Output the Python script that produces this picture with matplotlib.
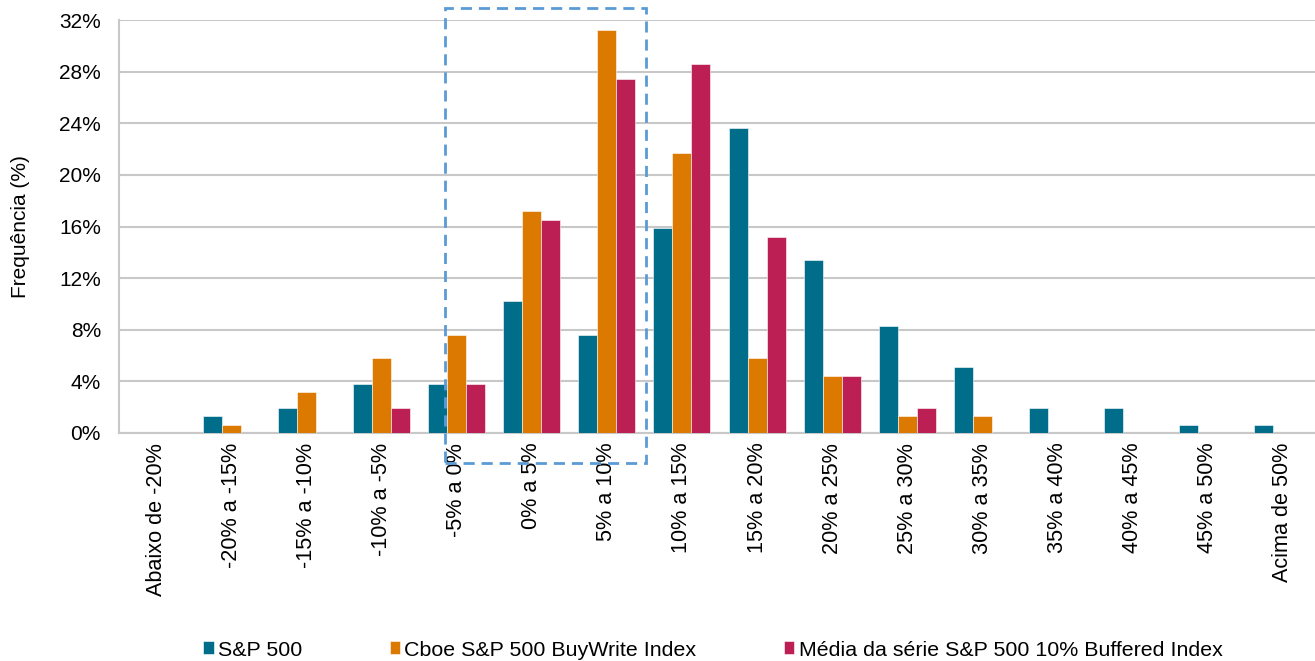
import matplotlib.pyplot as plt
from matplotlib.patches import Rectangle
import numpy as np

plt.rcParams['font.family'] = ['Liberation Sans', 'DejaVu Sans']

categories = ["Abaixo de -20%", "-20% a -15%", "-15% a -10%", "-10% a -5%", "-5% a 0%",
              "0% a 5%", "5% a 10%", "10% a 15%", "15% a 20%", "20% a 25%", "25% a 30%",
              "30% a 35%", "35% a 40%", "40% a 45%", "45% a 50%", "Acima de 50%"]
sp500 = [0, 1.3, 1.9, 3.8, 3.8, 10.2, 7.6, 15.9, 23.6, 13.4, 8.3, 5.1, 1.9, 1.9, 0.6, 0.6]
buywrite = [0, 0.6, 3.2, 5.8, 7.6, 17.2, 31.2, 21.7, 5.8, 4.4, 1.3, 1.3, 0, 0, 0, 0]
buffered = [0, 0, 0, 1.9, 3.8, 16.5, 27.4, 28.6, 15.2, 4.4, 1.9, 0, 0, 0, 0, 0]
series_names = ["S&P 500", "Cboe S&P 500 BuyWrite Index", "Média da série S&P 500 10% Buffered Index"]
yticks = [0, 4, 8, 12, 16, 20, 24, 28, 32]

colors = ["#006E8A", "#DC7900", "#BB1F53"]

W, H = 1315, 661
fig = plt.figure(figsize=(W / 100, H / 100), dpi=100)
ax = fig.add_axes([119 / W, (H - 433) / H, (1320 - 119) / W, (433 - 20) / H])

x = np.arange(len(categories))
bw = 0.253
for i, (vals, name) in enumerate(zip([sp500, buywrite, buffered], series_names)):
    ax.bar(x + (i - 1) * bw, vals, width=bw, color=colors[i], label=name,
           edgecolor="white", linewidth=0.4, zorder=3)

ax.set_xlim(-0.5, len(categories) - 0.5)
ax.set_ylim(0, 32)
ax.set_yticks(yticks)
ax.set_yticklabels([f"{v}%" for v in yticks])
ax.set_xticks(x)
ax.set_xticklabels(categories, rotation=90, va="top", ha="center")
ax.tick_params(axis="y", length=0, pad=13, labelsize=15)
ax.tick_params(axis="x", length=0, pad=7, labelsize=15.6)
ax.grid(axis="y", color="#C8C8C8", linewidth=1.5, zorder=0)
for s in ["top", "right"]:
    ax.spines[s].set_visible(False)
ax.spines["left"].set_color("#C8C8C8")
ax.spines["bottom"].set_color("#C8C8C8")
ax.spines["left"].set_linewidth(1.5)
ax.spines["bottom"].set_linewidth(1.5)

ax.set_ylabel("Frequência (%)", fontsize=15)
ax.yaxis.set_label_coords((30 - 119) / (1320 - 119), 0.5)

# dashed highlight box
box = Rectangle((445 / W, (H - 463) / H), (646 - 445) / W, (463 - 8) / H,
                transform=fig.transFigure, fill=False, edgecolor="#5B9BD5",
                linewidth=2, linestyle=(0, (4, 2.5)), clip_on=False, zorder=10)
fig.patches.append(box)

fig.legend(loc="center", bbox_to_anchor=(713 / W, (H - 650) / H), ncol=3, frameon=False,
           fontsize=15.4, handlelength=0.48, handleheight=0.55, handletextpad=0.2,
           columnspacing=4.1)

fig.savefig("out.png", dpi=100)
